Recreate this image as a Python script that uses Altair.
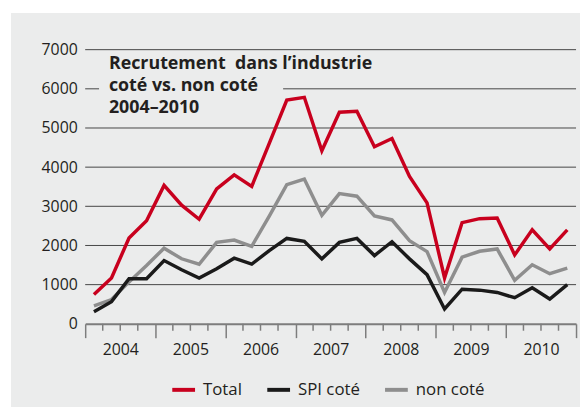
import altair as alt
import pandas as pd

# ---- data (quarterly, 2004 Q1 .. 2010 Q4) ----
QUARTERS = list(range(28))
TOTAL = [750, 1170, 2190, 2630, 3535, 3030, 2670, 3443, 3805, 3510, 4605, 5715, 5783, 4420,
         5404, 5429, 4520, 4731, 3763, 3089, 1170, 2584, 2685, 2702, 1759, 2399, 1911, 2399]
SPI = [310, 565, 1150, 1150, 1615, 1380, 1170, 1405, 1675, 1524, 1869, 2180, 2104, 1658,
       2079, 2180, 1742, 2096, 1658, 1254, 379, 884, 859, 800, 665, 918, 631, 1002]
NON = [460, 620, 1070, 1490, 1930, 1660, 1520, 2079, 2138, 1978, 2752, 3552, 3695, 2769,
       3325, 3258, 2752, 2652, 2121, 1843, 800, 1700, 1852, 1911, 1111, 1507, 1279, 1423]
SERIES = ["Total", "SPI coté", "non coté"]
COLORS = ["#c8001e", "#1a1a1a", "#8e8e8e"]
YEARS = [2004, 2005, 2006, 2007, 2008, 2009, 2010]
Y_TICKS = [0, 1000, 2000, 3000, 4000, 5000, 6000, 7000]
TITLE_LINES = ["Recrutement\u00a0 dans l\u2019industrie", "coté vs. non coté", "2004\u20132010"]

rows = []
for name, vals in zip(SERIES, [TOTAL, SPI, NON]):
    for q, v in zip(QUARTERS, vals):
        rows.append({"pos": q + 0.5, "series": name, "value": v})
df = pd.DataFrame(rows)

W, H = 496, 277
PAD_L, PAD_T, PAD_R, PAD_B = 78, 40, 4, 84
BG = "#ebecec"
AX = "#7d7d7d"
TXT = "#231f20"
FONT = "Open Sans"
NQ = len(QUARTERS)

xscale = alt.Scale(domain=[0, NQ], nice=False, zero=False)
yscale = alt.Scale(domain=[0, 7000], nice=False)

x_axis = alt.Axis(
    values=list(range(0, NQ + 1, 4)), title=None, grid=False,
    domain=True, domainColor=AX, domainWidth=2,
    ticks=True, tickSize=14, tickColor=AX, tickWidth=1.5,
    labelExpr="datum.value < %d ? '' + (%d + datum.value/4) : ''" % (NQ, YEARS[0]),
    labelOffset=W / len(YEARS) / 2, labelFontSize=16, labelFont=FONT, labelColor=TXT,
    labelPadding=12, labelBaseline="middle", labelOverlap=False, labelFlush=False,
    labelBound=False, zindex=1,
)
y_axis = alt.Axis(
    values=Y_TICKS, format="d", title=None, domain=False, ticks=False, grid=False,
    labelFontSize=16, labelFont=FONT, labelColor=TXT, labelPadding=8, zindex=1,
)

one = pd.DataFrame({"a": [0]})

bg = alt.Chart(one).mark_rect(color=BG).encode(
    x=alt.value(3 - PAD_L), x2=alt.value(W + PAD_R), y=alt.value(3 - PAD_T), y2=alt.value(H + PAD_B)
)

grid = alt.Chart(pd.DataFrame({"v": Y_TICKS[1:]})).mark_rule(color="#454545", strokeWidth=1).encode(
    y=alt.Y("v:Q", scale=yscale, axis=y_axis), x=alt.value(0), x2=alt.value(W)
)

title_bg = alt.Chart(one).mark_rect(color=BG).encode(
    x=alt.value(14), x2=alt.value(200), y=alt.value(4), y2=alt.value(72)
)

title = alt.Chart(one).mark_text(
    align="left", baseline="top", fontSize=18, fontWeight="bold", font=FONT,
    lineHeight=22, color=TXT, text=TITLE_LINES,
).encode(x=alt.value(24), y=alt.value(6))

qticks = alt.Chart(pd.DataFrame({"b": [b for b in range(NQ + 1) if b % 4]})).mark_rule(
    color=AX, strokeWidth=1.5
).encode(x=alt.X("b:Q", scale=xscale, axis=x_axis), y=alt.value(H), y2=alt.value(H + 7))

color = alt.Color(
    "series:N",
    scale=alt.Scale(domain=SERIES, range=COLORS),
    legend=alt.Legend(
        title=None, orient="none", legendX=86, legendY=330, direction="horizontal",
        symbolType="stroke", symbolSize=529, symbolStrokeWidth=4,
        labelFontSize=17, labelFont=FONT, labelColor=TXT, labelOffset=6,
        columnPadding=17, padding=0, zindex=1,
    ),
)

def series_layer(name):
    return alt.Chart(df).transform_filter(alt.datum.series == name).mark_line(
        strokeWidth=3.5, strokeJoin="miter"
    ).encode(
        x=alt.X("pos:Q", scale=xscale, axis=x_axis),
        y=alt.Y("value:Q", scale=yscale, axis=y_axis),
        color=color,
    )

chart = alt.layer(
    bg, grid, title_bg, title, qticks,
    series_layer("non coté"), series_layer("SPI coté"), series_layer("Total"),
).properties(
    width=W, height=H,
    padding={"left": PAD_L, "top": PAD_T, "right": PAD_R, "bottom": PAD_B},
    autosize=alt.AutoSizeParams(type="none"),
    background="white",
).configure_view(stroke=None)

chart.save("out.html", embed_options={"renderer": "svg", "actions": False})
